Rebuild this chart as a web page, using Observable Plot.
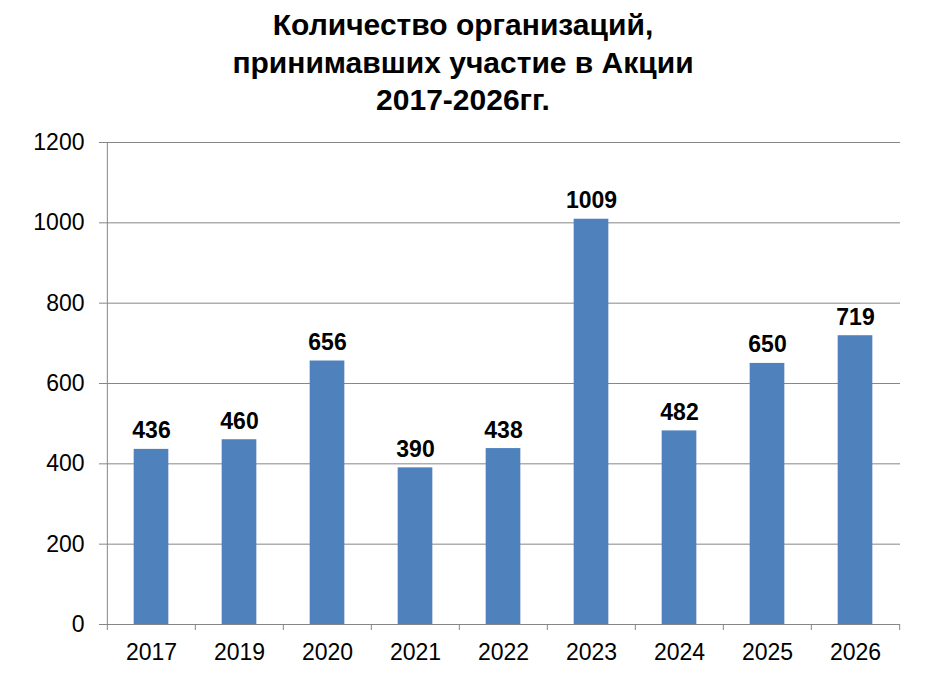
<!DOCTYPE html>
<html><head><meta charset="utf-8">
<script src="https://cdn.jsdelivr.net/npm/d3@7"></script>
<script src="https://cdn.jsdelivr.net/npm/@observablehq/plot@0.6"></script>
<style>
body{margin:0;background:#fff;font-family:"Liberation Sans",Arial,sans-serif;}
#title{height:120px;box-sizing:border-box;padding-top:6px;font-size:30px;font-weight:bold;line-height:37.5px;text-align:center;width:926px;color:#000;}
#chart svg{display:block;}
</style></head><body>
<div id="title"></div><div id="chart"></div>
<script>
const titleLines = ["Количество организаций,", "принимавших участие в Акции", "2017-2026гг."];
const years = ["2017","2019","2020","2021","2022","2023","2024","2025","2026"];
const counts = [436,460,656,390,438,1009,482,650,719];
const yTicks = [0,200,400,600,800,1000,1200];

document.getElementById("title").innerHTML = titleLines.map(t => `<div>${t}</div>`).join("");

const width = 933, height = 580, mL = 105, mR = 33, mT = 22, mB = 76;
const step = (width - mL - mR) / years.length;
const barW = 35;
const inset = (step - barW) / 2;
const data = years.map((y, i) => ({year: y, value: counts[i]}));
const grid = "#868686";

const chart = Plot.plot({
  width, height, marginLeft: mL, marginRight: mR, marginTop: mT, marginBottom: mB,
  style: {fontFamily: "Liberation Sans, Arial, sans-serif", background: "#fff", color: "#000"},
  x: {type: "band", domain: years, padding: 0, label: null},
  y: {domain: [0, 1200], label: null},
  marks: [
    Plot.gridY(yTicks, {stroke: grid, strokeOpacity: 1}),
    Plot.axisY(yTicks, {tickSize: 6, tickPadding: 15, fontSize: 23, stroke: grid, fill: "#000", label: null, tickFormat: d => String(d)}),
    Plot.rectY(data, {x: "year", y: "value", fill: "#4F81BD", insetLeft: inset, insetRight: inset}),
    Plot.ruleX(years.slice(0, 1), {dx: -step / 2, y1: 0, y2: 1200, stroke: grid}),
    Plot.ruleX(years, {dx: -step / 2, y1: 0, y2: 0, insetBottom: -6, stroke: grid}),
    Plot.ruleX(years.slice(-1), {dx: step / 2, y1: 0, y2: 0, insetBottom: -6, stroke: grid}),
    Plot.axisX({tickSize: 0, tickPadding: 19, fontSize: 23, fill: "#000", label: null}),
    Plot.text(data, {x: "year", y: "value", text: d => String(d.value), dy: -11, lineAnchor: "bottom", fontSize: 23, fontWeight: "bold", fill: "#000"})
  ]
});
document.getElementById("chart").appendChild(chart);
</script>
</body></html>
